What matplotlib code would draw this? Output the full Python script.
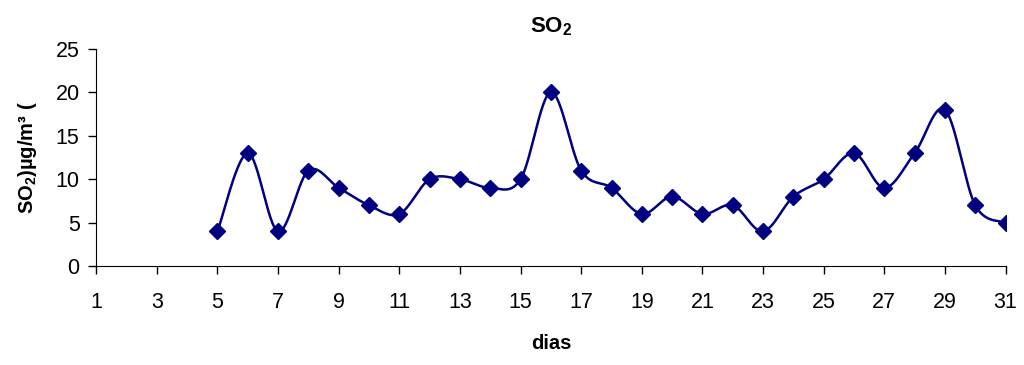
import numpy as np
import matplotlib
matplotlib.use("Agg")
import matplotlib.pyplot as plt

days = [5, 6, 7, 8, 9, 10, 11, 12, 13, 14, 15, 16, 17, 18, 19, 20, 21, 22, 23, 24, 25, 26, 27, 28, 29, 30, 31]
so2 = [4, 13, 4, 11, 9, 7, 6, 10, 10, 9, 10, 20, 11, 9, 6, 8, 6, 7, 4, 8, 10, 13, 9, 13, 18, 7, 5]
xticks = list(range(1, 32, 2))
yticks = [0, 5, 10, 15, 20, 25]

plt.rcParams['font.family'] = ['Liberation Sans', 'DejaVu Sans']
plt.rcParams['mathtext.fontset'] = 'custom'
plt.rcParams['mathtext.rm'] = 'Liberation Sans'
plt.rcParams['mathtext.bf'] = 'Liberation Sans:bold'

def smooth(x, y, n=30):
    x = np.asarray(x, float); y = np.asarray(y, float)
    px = np.concatenate([[x[0]], x, [x[-1]]])
    py = np.concatenate([[y[0]], y, [y[-1]]])
    xs, ys = [], []
    t = np.linspace(0, 1, n, endpoint=False)
    for i in range(1, len(px) - 2):
        p0, p1, p2, p3 = [np.array([px[j], py[j]]) for j in (i - 1, i, i + 1, i + 2)]
        c1 = p1 + (p2 - p0) / 6
        c2 = p2 - (p3 - p1) / 6
        b = ((1 - t) ** 3)[:, None] * p1 + (3 * (1 - t) ** 2 * t)[:, None] * c1 + \
            (3 * (1 - t) * t ** 2)[:, None] * c2 + (t ** 3)[:, None] * p2
        xs.extend(b[:, 0]); ys.extend(b[:, 1])
    xs.append(x[-1]); ys.append(y[-1])
    return xs, ys

fig = plt.figure(figsize=(10.24, 3.65), dpi=100)
ax = fig.add_axes([0.094, 0.271, 0.888, 0.595])
sx, sy = smooth(days, so2)
ax.plot(sx, sy, color='#000080', lw=1.8)
ax.plot(days, so2, linestyle='none', marker='D', color='#000080', markersize=8.5)

ax.set_xlim(1, 31)
ax.set_ylim(0, 25)
ax.set_xticks(xticks)
ax.set_yticks(yticks)
ax.tick_params(labelsize=15.5, length=6, width=1, direction='out', pad=13, axis='x')
ax.tick_params(labelsize=15.5, length=6, width=1, direction='out', pad=6, axis='y')
for s in ['top', 'right']:
    ax.spines[s].set_visible(False)
ax.spines['left'].set_linewidth(0.8)
ax.spines['bottom'].set_linewidth(0.8)

ax.set_title(r'$\mathbf{SO_2}$', fontsize=16, pad=12)
ax.set_xlabel('dias', fontsize=14.5, fontweight='bold', labelpad=15)
ax.set_ylabel(r'$\mathbf{SO_2)µg/m³\ (}$', fontsize=14.5, labelpad=12)

fig.savefig('out.png', dpi=100)
